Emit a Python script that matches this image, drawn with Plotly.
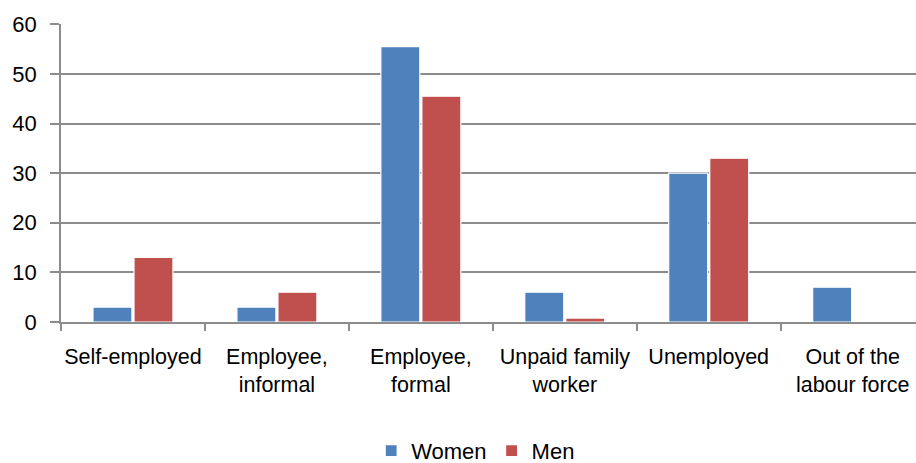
import plotly.graph_objects as go

categories = [
    "Self-employed",
    "Employee,<br>informal",
    "Employee,<br>formal",
    "Unpaid family<br>worker",
    "Unemployed",
    "Out of the<br>labour force",
]
women = [3, 3, 55.5, 6, 30, 7]
men = [13, 6, 45.5, 0.8, 33, 0]
y_ticks = [0, 10, 20, 30, 40, 50, 60]

FONT = "Arial, Liberation Sans, sans-serif"
GRID = "#8c8c8c"

fig = go.Figure()
fig.add_trace(go.Bar(
    name="Women", x=categories, y=women,
    marker=dict(color="#4f81bd", line=dict(color="white", width=1.2)),
))
fig.add_trace(go.Bar(
    name="Men", x=categories, y=men,
    marker=dict(color="#c0504d", line=dict(color="white", width=1.2)),
))

fig.update_layout(
    width=916, height=463,
    margin=dict(l=61, r=0, t=24, b=141, autoexpand=False),
    paper_bgcolor="white", plot_bgcolor="white",
    barmode="group", bargap=0.43, bargroupgap=0.05,
    font=dict(family=FONT, size=22, color="black"),
    legend=dict(
        orientation="h", x=0.485, xanchor="center", y=-0.362, yanchor="top",
        font=dict(size=22), itemwidth=30, traceorder="normal",
    ),
    showlegend=True,
)
fig.update_xaxes(
    range=[-0.5, 5.44], automargin=False, tickangle=0,
    showline=True, linecolor=GRID, linewidth=1.5,
    ticks="outside", tickson="boundaries", ticklen=7, tickcolor=GRID, tickwidth=1.5,
    showgrid=False, tickfont=dict(size=21.5), ticklabelstandoff=14,
)
fig.update_yaxes(
    range=[0, 60.05], tickvals=y_ticks, automargin=False,
    showline=True, linecolor=GRID, linewidth=1.5,
    ticks="outside", ticklen=9, tickcolor=GRID, tickwidth=1.5,
    showgrid=True, gridcolor=GRID, gridwidth=1.5, zeroline=False,
    tickfont=dict(size=22), ticklabelstandoff=9,
)

fig.write_html("out.html")
